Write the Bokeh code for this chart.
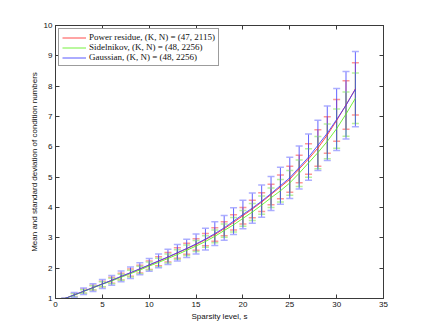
import numpy as np
from bokeh.plotting import figure
from bokeh.models import (ColumnDataSource, Whisker, TeeHead, LinearAxis, Range1d,
                          Legend, LegendItem, FixedTicker)
from bokeh.embed import file_html
from bokeh.resources import INLINE

# ---------------- data ----------------
sparsity = list(range(1, 33))

red_mean = [1.00, 1.12, 1.24, 1.36, 1.48, 1.60, 1.72, 1.85, 1.97, 2.10, 2.23, 2.36, 2.50, 2.64, 2.78, 2.94,
            3.11, 3.30, 3.51, 3.73, 3.95, 4.18, 4.43, 4.68, 4.93, 5.27, 5.60, 5.96, 6.39, 6.87, 7.38, 7.91]
red_std = [0.01, 0.05, 0.07, 0.08, 0.09, 0.10, 0.11, 0.12, 0.13, 0.14, 0.15, 0.16, 0.17, 0.18, 0.19, 0.20,
           0.22, 0.23, 0.25, 0.27, 0.29, 0.31, 0.34, 0.39, 0.43, 0.45, 0.50, 0.60, 0.60, 0.69, 0.80, 0.86]

green_mean = [1.00, 1.11, 1.23, 1.35, 1.47, 1.58, 1.70, 1.82, 1.94, 2.07, 2.19, 2.32, 2.45, 2.59, 2.73, 2.88,
              3.05, 3.24, 3.43, 3.64, 3.85, 4.08, 4.32, 4.55, 4.81, 5.13, 5.47, 5.81, 6.18, 6.60, 7.08, 7.60]
green_std = [0.01, 0.05, 0.06, 0.07, 0.08, 0.09, 0.10, 0.11, 0.12, 0.13, 0.14, 0.15, 0.16, 0.17, 0.18, 0.19,
             0.21, 0.22, 0.24, 0.26, 0.28, 0.30, 0.32, 0.37, 0.41, 0.44, 0.47, 0.53, 0.57, 0.65, 0.73, 0.83]

blue_mean = [1.00, 1.12, 1.24, 1.36, 1.48, 1.60, 1.73, 1.85, 1.98, 2.11, 2.24, 2.37, 2.51, 2.65, 2.80, 2.96,
             3.14, 3.33, 3.55, 3.77, 3.98, 4.21, 4.46, 4.72, 4.98, 5.32, 5.66, 6.05, 6.45, 6.90, 7.37, 7.90]
blue_std = [0.02, 0.08, 0.11, 0.13, 0.15, 0.16, 0.18, 0.19, 0.20, 0.21, 0.23, 0.25, 0.27, 0.30, 0.33, 0.36,
            0.39, 0.41, 0.44, 0.47, 0.50, 0.53, 0.56, 0.61, 0.68, 0.71, 0.76, 0.83, 0.90, 1.02, 1.11, 1.24]

labels = ["Power residue, (K, N) = (47, 2115)",
          "Sidelnikov, (K, N) = (48, 2256)",
          "Gaussian, (K, N) = (48, 2256)"]

x_ticks = [0, 5, 10, 15, 20, 25, 30, 35]
y_ticks = [1, 2, 3, 4, 5, 6, 7, 8, 9, 10]

# ---------------- figure ----------------
p = figure(width=416, height=328, output_backend="svg", toolbar_location=None,
           x_range=Range1d(0, 35), y_range=Range1d(1, 10),
           min_border_left=55, min_border_right=33, min_border_top=25, min_border_bottom=30)
p.background_fill_color = "white"
p.border_fill_color = "white"
p.outline_line_color = "#3a3a3a"
p.xgrid.visible = False
p.ygrid.visible = False

font = "Liberation Sans"
for ax in (p.xaxis[0], p.yaxis[0]):
    ax.major_tick_in = 4
    ax.major_tick_out = 0
    ax.minor_tick_in = 0
    ax.minor_tick_out = 0
    ax.axis_line_color = "#3a3a3a"
    ax.major_tick_line_color = "#3a3a3a"
    ax.major_label_text_font = font
    ax.major_label_text_font_size = "8px"
    ax.major_label_text_color = "#111111"
    ax.axis_label_text_font = font
    ax.axis_label_text_font_size = "8px"
    ax.axis_label_text_font_style = "normal"
    ax.axis_label_text_color = "#111111"
    ax.major_label_standoff = 3
    ax.axis_label_standoff = 2

p.xaxis[0].ticker = FixedTicker(ticks=x_ticks)
p.yaxis[0].ticker = FixedTicker(ticks=y_ticks)
p.xaxis[0].axis_label = "Sparsity level, s"
p.yaxis[0].axis_label = "Mean and standard deviation of condition numbers"

# mirror axes (ticks only, no labels)
top = LinearAxis(ticker=FixedTicker(ticks=x_ticks), major_label_overrides={t: "" for t in x_ticks})
right = LinearAxis(ticker=FixedTicker(ticks=y_ticks), major_label_overrides={t: "" for t in y_ticks})
for ax in (top, right):
    ax.major_tick_in = 4
    ax.major_tick_out = 0
    ax.minor_tick_in = 0
    ax.minor_tick_out = 0
    ax.major_label_standoff = 0
    ax.axis_line_color = "#3a3a3a"
    ax.major_tick_line_color = "#3a3a3a"
p.add_layout(top, "above")
p.add_layout(right, "right")

series = [
    (red_mean, red_std, "#ff2a2a", "#ff8c8c"),
    (green_mean, green_std, "#5cee1a", "#b0f090"),
    (blue_mean, blue_std, "#3c3cff", "#a4a6ff"),
]

renderers = []
for mean, std, col, capcol in series:
    m = np.array(mean)
    sd = np.array(std)
    src = ColumnDataSource(dict(s=sparsity, m=m, up=m + sd, lo=m - sd))
    w = Whisker(source=src, base="s", upper="up", lower="lo", dimension="height",
                line_color=col, line_width=1, line_alpha=0.8,
                upper_head=TeeHead(size=7, line_color=capcol, line_width=1.5, line_alpha=0.9),
                lower_head=TeeHead(size=7, line_color=capcol, line_width=1.5, line_alpha=0.9))
    p.add_layout(w)
    r = p.line("s", "m", source=src, line_color=col, line_width=1.0, line_alpha=0.85)
    renderers.append(r)

legend = Legend(items=[LegendItem(label=lab, renderers=[r]) for lab, r in zip(labels, renderers)],
                location="top_left")
legend.label_text_font = "Liberation Serif"
legend.label_text_font_size = "9px"
legend.label_text_color = "#111111"
legend.label_height = 9
legend.glyph_height = 9
legend.glyph_width = 24
legend.label_standoff = 3
legend.spacing = 0
legend.padding = 3
legend.margin = 3
legend.border_line_color = "#3a3a3a"
legend.border_line_width = 1
legend.background_fill_color = "white"
legend.background_fill_alpha = 1.0
p.add_layout(legend)

open("out.html", "w").write(file_html(p, INLINE))
